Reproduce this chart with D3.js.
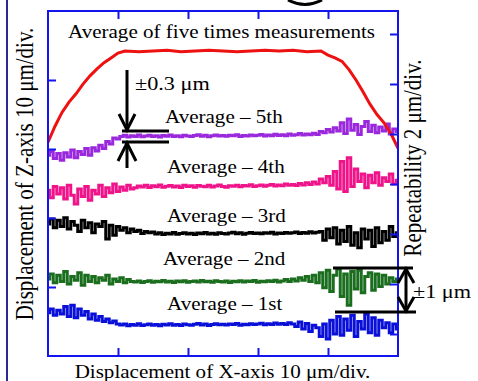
<!DOCTYPE html>
<html><head><meta charset="utf-8">
<script src="https://cdn.jsdelivr.net/npm/d3@7"></script>
<style>
html,body{margin:0;padding:0;background:#fff;}
svg{display:block;}
text{font-family:"Liberation Serif","Times New Roman",serif;fill:#000;}
</style></head>
<body><svg id="c" width="478" height="381"></svg>
<script>
// ---- data ----
const xStep = 0.5; // µm between samples of repeatability traces
const xTicks = [10, 20, 30, 40];
const zTicks = [10, 20, 30, 40];
const rTicks = [0, 2, 4, 6, 8, 10, 12];

// Average of five times measurements (Z displacement, µm)
const redX = [0,1,2,3,4,5,6,7,8,9,10,11,13,15,17,19,21,23,25,27,29,31,33,35,37,39,40,41,42,43,44,45,46,47,48,49,50];
const redZ = [31.0,33.3,35.3,36.8,38.0,39.4,40.6,41.6,42.5,43.2,43.9,44.2,44.1,44.2,44.3,44.1,44.2,44.3,44.2,44.1,44.2,44.3,44.2,44.3,44.1,44.2,43.6,43.2,42.7,41.5,40.0,38.3,36.5,35.0,33.8,32.2,30.1];

// Repeatability traces (µm on right axis, offset for display)
const avg5 = [7.15,7.30,7.02,7.22,6.95,7.25,7.08,7.36,7.05,7.30,7.18,7.42,7.15,7.45,7.32,7.55,7.42,7.70,7.60,7.84,7.80,
7.90,7.95,7.88,7.93,7.90,7.96,7.89,7.92,7.95,7.90,
7.93,7.88,7.94,7.91,7.96,7.90,7.93,7.89,7.95,7.92,
7.90,7.94,7.97,7.91,7.95,7.89,7.93,7.96,7.92,7.94,
7.91,7.95,7.93,7.97,7.90,7.94,7.92,7.96,7.93,7.95,
7.98,7.92,7.96,7.93,7.99,7.94,7.97,7.93,8.00,7.95,
7.97,8.02,7.96,8.00,7.97,8.03,7.98,
8.10,8.05,8.18,8.08,8.25,8.12,8.45,8.02,8.60,8.15,8.38,7.98,8.30,8.50,8.10,8.35,8.05,8.28,8.12,8.40,8.00,8.20,8.10];
const avg4 = [5.75,5.45,5.90,5.60,5.85,5.40,5.95,5.55,5.20,5.80,5.50,5.90,5.35,5.75,5.60,5.95,5.50,5.85,5.65,6.00,5.70,5.88,5.75,5.95,5.80,
5.85,5.92,5.88,5.95,5.86,5.93,5.89,5.96,5.87,5.91,
5.94,5.88,5.92,5.86,5.95,5.90,5.93,5.87,5.94,5.91,
5.89,5.95,5.88,5.92,5.96,5.90,5.87,5.93,5.91,5.95,
5.89,5.94,5.92,5.97,5.90,5.93,5.96,5.91,5.95,5.98,
5.92,5.96,5.93,6.00,5.95,5.98,5.94,6.02,5.96,6.05,
5.98,6.08,6.00,
6.20,6.05,6.30,5.95,6.50,5.80,6.90,5.70,7.05,5.90,6.60,6.10,6.40,5.85,6.35,6.05,6.45,5.95,6.25,6.10,6.40,6.00,6.15];
const avg3 = [4.40,4.60,4.25,4.55,4.30,4.65,4.20,4.50,4.35,4.10,4.55,4.25,4.45,4.05,4.40,4.30,4.50,3.80,4.35,3.95,4.30,4.15,4.25,4.05,4.20,4.10,4.15,4.02,4.10,4.05,4.08,
4.00,4.05,3.98,4.03,4.00,4.06,3.99,4.02,4.05,4.00,
4.03,3.98,4.04,4.01,4.06,4.00,4.03,3.99,4.05,4.02,
4.00,4.04,4.07,4.01,4.05,3.99,4.03,4.06,4.02,4.04,
4.01,4.05,4.03,4.07,4.00,4.04,4.02,4.06,4.03,4.05,
4.08,4.02,4.06,4.03,4.09,4.04,4.07,
4.10,3.75,4.20,3.85,4.25,3.60,4.15,3.70,4.30,3.55,4.05,3.45,4.20,3.80,4.15,3.50,4.25,3.65,4.10,3.75,4.30,3.90,4.05];
const avg2 = [2.20,2.40,2.05,2.35,2.10,2.50,2.00,2.30,2.15,2.45,1.95,2.35,2.10,2.30,2.05,2.25,2.15,2.35,2.00,2.20,2.10,2.25,2.05,2.18,2.10,
2.08,2.12,2.06,2.10,2.13,2.07,2.11,2.09,2.14,2.08,
2.11,2.06,2.12,2.09,2.13,2.07,2.10,2.12,2.08,2.14,
2.09,2.11,2.07,2.13,2.10,2.08,2.12,2.06,2.11,2.09,
2.13,2.08,2.12,2.10,2.14,2.07,2.11,2.09,2.13,2.10,
2.15,2.08,2.12,2.18,2.10,2.20,2.12,2.25,2.15,2.30,
2.10,2.35,2.05,
2.45,1.85,2.55,1.70,2.35,2.60,1.50,2.40,1.15,2.50,1.80,2.55,1.65,2.30,2.45,1.75,2.40,1.90,2.35,2.00,2.25,2.10,2.20];
const avg1 = [0.85,1.00,0.75,0.95,0.80,1.10,0.70,1.15,0.65,1.00,0.75,0.90,0.60,0.80,0.55,0.70,0.50,0.60,0.45,0.52,0.40,
0.36,0.40,0.33,0.38,0.35,0.41,0.34,0.37,0.40,0.35,
0.38,0.33,0.39,0.36,0.41,0.35,0.38,0.34,0.40,0.37,
0.35,0.39,0.42,0.36,0.40,0.34,0.38,0.41,0.37,0.39,
0.36,0.40,0.38,0.42,0.35,0.39,0.37,0.41,0.38,0.40,
0.43,0.37,0.41,0.38,0.44,0.39,0.42,0.38,0.45,0.40,
0.30,0.48,0.20,0.42,0.10,0.35,0.25,
-0.10,0.40,-0.20,0.55,0.00,0.70,-0.05,0.60,0.15,0.75,-0.10,0.50,0.20,0.80,0.05,0.65,-0.05,0.55,0.25,0.45,0.05,0.40,0.20];

const seriesNames = ["Average – 5th","Average – 4th","Average – 3rd","Average – 2nd","Average – 1st"];
const seriesValues = [avg5, avg4, avg3, avg2, avg1];
const seriesColors = ["#9a28dc","#f0148a","#000000","#1a6e1e","#0a10d8"];
const labelPos = [[165,123],[167,173],[167,222],[163,265],[167,310]];

// ---- layout ----
const svg = d3.select("#c");
const L = 48, R = 398, T = 11, B = 356;
const SX = 1.17; // horizontal stretch of the original figure
const axisBlue = "#1414ee";

const x = d3.scaleLinear().domain([0, 50]).range([L, R]);
const z = d3.scaleLinear().domain([0, 50]).range([B, T]);
const r = d3.scaleLinear().domain([-0.88, 12.92]).range([B, T]);

svg.append("defs").append("clipPath").attr("id","clip")
  .append("rect").attr("x",L).attr("y",T).attr("width",R-L).attr("height",B-T);

// outer decorations of the source figure
svg.append("line").attr("x1",7).attr("x2",7).attr("y1",0).attr("y2",381)
  .attr("stroke","#2a2a90").attr("stroke-width",2);
svg.append("path").attr("d","M288,0 Q305,9 322,0").attr("fill","none")
  .attr("stroke","#000").attr("stroke-width",3);

const plot = svg.append("g").attr("clip-path","url(#clip)");

// series
const line = d3.line().x((d,i)=>x(i*xStep)).y(d=>r(d)).curve(d3.curveStep);
seriesValues.forEach((vals,k)=>{
  plot.append("path").datum(vals).attr("d",line).attr("fill","none")
    .attr("stroke",seriesColors[k]).attr("stroke-width",3).attr("stroke-linejoin","miter");
});
const redLine = d3.line().x((d,i)=>x(redX[i])).y(d=>z(d));
plot.append("path").datum(redZ).attr("d",redLine).attr("fill","none")
  .attr("stroke","#ee1111").attr("stroke-width",3);

// axes
function styleAxis(g){
  g.select(".domain").remove();
  g.selectAll(".tick line").attr("stroke",axisBlue).attr("stroke-width",2);
  g.selectAll(".tick text").remove();
}
svg.append("g").attr("transform",`translate(0,${B})`)
  .call(d3.axisBottom(x).tickValues(xTicks).tickSize(-8)).call(styleAxis);
svg.append("g").attr("transform",`translate(0,${T})`)
  .call(d3.axisTop(x).tickValues(xTicks).tickSize(-8)).call(styleAxis);
svg.append("g").attr("transform",`translate(${L},0)`)
  .call(d3.axisLeft(z).tickValues(zTicks).tickSize(-8)).call(styleAxis);
svg.append("g").attr("transform",`translate(${R},0)`)
  .call(d3.axisRight(r).tickValues(rTicks).tickSize(-8)).call(styleAxis);
svg.append("rect").attr("x",L).attr("y",T).attr("width",R-L).attr("height",B-T)
  .attr("fill","none").attr("stroke",axisBlue).attr("stroke-width",2);

// texts
function htext(txt,xx,yy,size,anchor){
  svg.append("text").attr("transform",`translate(${xx},${yy}) scale(${SX},1)`)
    .attr("font-size",size).attr("text-anchor",anchor||"start").text(txt);
}
function vtext(txt,xx,yy,size){
  svg.append("text").attr("transform",`translate(${xx},${yy}) scale(${SX},1) rotate(-90)`)
    .attr("font-size",size).attr("text-anchor","middle").text(txt);
}
htext("Average of five times measurements",68,38,18);
seriesNames.forEach((n,k)=>htext(n,labelPos[k][0],labelPos[k][1],18));
htext("Displacement of X-axis 10 μm/div.",222.5,378,18,"middle");
vtext("Displacement of Z-axis 10 μm/div.",33,174,21);
vtext("Repeatability 2 μm/div.",421,158,21);
htext("±0.3 μm",135,90,19);
htext("±1 μm",413,298,19);

// annotations
const ann = svg.append("g").attr("stroke","#000").attr("fill","none").attr("stroke-width",3);
// ±0.3 µm
ann.append("line").attr("x1",127).attr("x2",127).attr("y1",70).attr("y2",130);
ann.append("path").attr("d","M119,114 L127,130 L135,114");
ann.append("line").attr("x1",122).attr("x2",169).attr("y1",131).attr("y2",131);
ann.append("line").attr("x1",122).attr("x2",169).attr("y1",142).attr("y2",142);
ann.append("line").attr("x1",127).attr("x2",127).attr("y1",143).attr("y2",168);
ann.append("path").attr("d","M118,161 L127,143 L136,161");
// ±1 µm
ann.append("line").attr("x1",333).attr("x2",413).attr("y1",268).attr("y2",268);
ann.append("line").attr("x1",335).attr("x2",416).attr("y1",312).attr("y2",312);
ann.append("line").attr("x1",406).attr("x2",406).attr("y1",269).attr("y2",311);
ann.append("path").attr("d","M398,283 L406,269 L414,283");
ann.append("path").attr("d","M398,297 L406,311 L414,297");
</script></body></html>
